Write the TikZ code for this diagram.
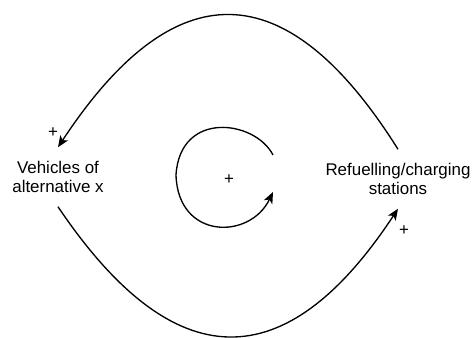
\documentclass[tikz,border=0pt]{standalone}
\usepackage{fontspec}
\setmainfont{Liberation Sans}
\usetikzlibrary{arrows.meta}
\begin{document}
\begin{tikzpicture}[line width=1pt, x=0.75pt, y=-0.75pt,
  every node/.style={font=\fontsize{12.7}{14.3}\selectfont},
  var/.style={align=center, inner sep=10pt},
  link/.style={-{Stealth[length=8.5pt, width=7pt, inset=2.2pt]}}]
  \useasboundingbox (0,0) rectangle (472,338);
  \node[var] (veh) at (58,177) {Vehicles of\\alternative x};
  \node[var] (sta) at (398,179) {Refuelling/charging\\stations};
  \node (ploop) at (229,180) {+};
  \node (pveh) at (53,133) {+};
  \node (psta) at (404,231) {+};
  \coordinate (lstart) at (273,155);
  \coordinate (lend) at (273,192);
  \draw[link] (sta.north) .. controls (286,-29) and (174,-29) .. (veh.north);
  \draw[link] (veh.south) .. controls (174,379) and (286,379) .. (sta.south);
  \draw[link] (lstart) .. controls (255,120) and (180,110) .. (176,175)
    .. controls (178,240) and (250,240) .. (lend);
\end{tikzpicture}
\end{document}
